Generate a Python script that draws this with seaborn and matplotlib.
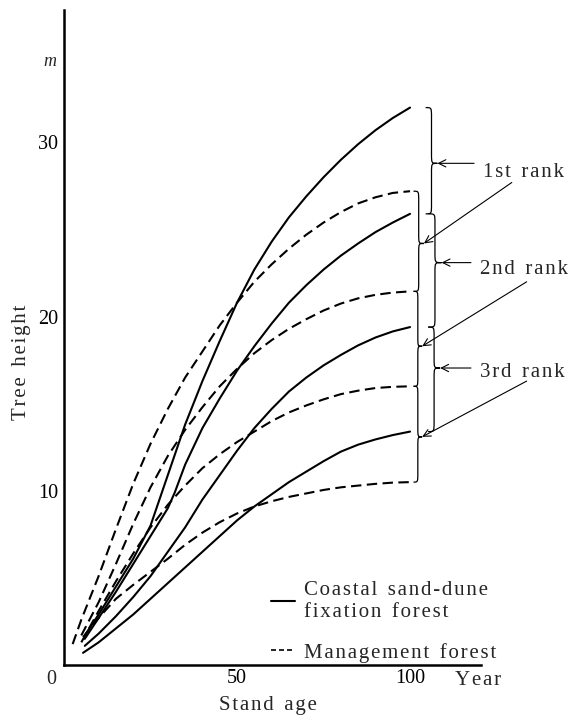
import matplotlib
matplotlib.use("Agg")
import matplotlib.pyplot as plt
from matplotlib.path import Path
from matplotlib.patches import PathPatch
from matplotlib.lines import Line2D
import pandas as pd
import seaborn as sns

# ---- tree height (m) by stand age (years) ----
# Coastal sand-dune fixation forest, site ranks from best to poorest
coastal_age_1 = [6, 10, 15, 20, 25, 30, 35, 40, 45, 50, 55, 60, 65, 70, 75, 80, 85, 90, 95, 100]
coastal_h_1 = [1.7, 2.9, 4.5, 6.1, 8.0, 10.9, 13.8, 16.3, 18.6, 20.8, 22.7, 24.3, 25.7, 26.9, 28.0, 29.0, 29.9, 30.7, 31.4, 32.0]
coastal_age_2 = [6, 10, 15, 20, 25, 30, 32, 35, 40, 45, 50, 55, 60, 65, 70, 75, 80, 85, 90, 95, 100]
coastal_h_2 = [1.5, 2.7, 4.2, 5.8, 7.4, 9.0, 9.9, 11.5, 13.6, 15.3, 16.9, 18.3, 19.6, 20.8, 21.8, 22.7, 23.5, 24.2, 24.85, 25.4, 25.9]
coastal_age_3 = [6, 10, 15, 20, 25, 30, 35, 40, 45, 50, 55, 60, 65, 70, 75, 80, 85, 90, 95, 100]
coastal_h_3 = [1.1, 1.8, 2.8, 3.9, 5.1, 6.5, 7.9, 9.5, 10.9, 12.3, 13.6, 14.7, 15.7, 16.5, 17.2, 17.8, 18.35, 18.8, 19.15, 19.4]
coastal_age_4 = [5.5, 10, 15, 20, 25, 30, 35, 40, 45, 50, 55, 60, 65, 70, 75, 80, 85, 90, 95, 100]
coastal_h_4 = [0.7, 1.3, 2.1, 2.9, 3.8, 4.7, 5.6, 6.5, 7.4, 8.3, 9.1, 9.8, 10.5, 11.1, 11.7, 12.25, 12.65, 12.95, 13.2, 13.4]

# Management forest, site ranks from best to poorest
manage_age_1 = [2.5, 5, 10, 15, 20, 25, 30, 35, 40, 45, 50, 55, 60, 65, 70, 75, 80, 85, 90, 95, 100]
manage_h_1 = [1.2, 2.6, 5.1, 7.8, 10.4, 12.7, 14.7, 16.5, 18.0, 19.5, 20.8, 22.0, 23.0, 23.9, 24.7, 25.4, 26.0, 26.5, 26.85, 27.1, 27.2]
manage_age_2 = [5, 10, 15, 20, 25, 30, 35, 40, 45, 50, 55, 60, 65, 70, 75, 80, 85, 90, 95, 100]
manage_h_2 = [1.7, 3.6, 5.8, 8.1, 10.2, 12.0, 13.5, 14.8, 16.0, 17.0, 17.9, 18.65, 19.3, 19.85, 20.35, 20.75, 21.05, 21.25, 21.38, 21.45]
manage_age_3 = [5, 10, 15, 20, 25, 30, 35, 40, 45, 50, 55, 60, 65, 70, 75, 80, 85, 90, 95, 100]
manage_h_3 = [1.3, 3.1, 4.8, 6.4, 7.9, 9.2, 10.3, 11.3, 12.1, 12.8, 13.4, 14.0, 14.5, 14.9, 15.25, 15.55, 15.75, 15.9, 15.97, 16.0]
manage_age_4 = [5.5, 10, 15, 20, 25, 30, 35, 40, 45, 50, 55, 60, 65, 70, 75, 80, 85, 90, 95, 100]
manage_h_4 = [1.6, 2.7, 3.8, 4.6, 5.35, 6.1, 6.9, 7.6, 8.2, 8.7, 9.1, 9.4, 9.65, 9.85, 10.05, 10.2, 10.3, 10.4, 10.47, 10.5]

COASTAL = "Coastal sand-dune\nfixation forest"
MANAGE = "Management forest"
rank_labels = ["1st rank", "2nd rank", "3rd rank"]

series = [
    (COASTAL, 1, coastal_age_1, coastal_h_1),
    (COASTAL, 2, coastal_age_2, coastal_h_2),
    (COASTAL, 3, coastal_age_3, coastal_h_3),
    (COASTAL, 4, coastal_age_4, coastal_h_4),
    (MANAGE, 1, manage_age_1, manage_h_1),
    (MANAGE, 2, manage_age_2, manage_h_2),
    (MANAGE, 3, manage_age_3, manage_h_3),
    (MANAGE, 4, manage_age_4, manage_h_4),
]
rows = []
for forest, rank, ages, heights in series:
    for a, h in zip(ages, heights):
        rows.append({"forest": forest, "curve": f"{forest}-{rank}", "age": a, "height": h})
df = pd.DataFrame(rows)

sns.set_style("white")
SERIF = ["Liberation Serif", "DejaVu Serif"]
plt.rcParams["font.family"] = SERIF
plt.rcParams["font.size"] = 15


def spaced(s):
    """Add a little tracking between the letters of each word."""
    return "  ".join("\u200a".join(w) for w in s.split(" "))


fig = plt.figure(figsize=(5.75, 7.17), dpi=100)
ax = fig.add_axes([0.1113, 0.0725, 0.7252, 0.9135])

sns.lineplot(
    data=df, x="age", y="height", units="curve", estimator=None, sort=False,
    style="forest", dashes={COASTAL: "", MANAGE: (5, 2.6)},
    color="black", linewidth=1.5, legend=False, ax=ax,
)

ax.set_xlim(0, 120.5)
ax.set_ylim(0, 37.6)
for side in ("top", "right"):
    ax.spines[side].set_visible(False)
for side in ("left", "bottom"):
    ax.spines[side].set_linewidth(1.8)
    ax.spines[side].set_color("black")

ax.set_xticks([50, 100])
ax.set_xticklabels(["50", "100"])
ax.set_yticks([10, 20, 30])
ax.set_yticklabels(["10", "20", "30"])
ax.set_yticks([5, 15, 25, 35], minor=True)
ax.tick_params(axis="both", which="major", direction="in", length=5, width=1.3,
               labelsize=14.5, colors="black")
ax.tick_params(axis="x", which="major", pad=2.8)
ax.tick_params(axis="y", which="major", pad=4)
ax.tick_params(axis="y", which="minor", direction="in", length=2.5, width=1.0)

ax.text(-3.6, -0.28, "0", ha="center", va="top", fontsize=14.5, clip_on=False)
ax.text(-0.034, 34.65, "m", transform=ax.get_yaxis_transform(), ha="center",
        va="center", fontsize=13, style="italic", clip_on=False)
ax.text(113, -0.9, spaced("Year"), ha="left", va="center", fontsize=15, clip_on=False)

ax.set_xlabel(spaced("Stand age"), fontsize=15)
ax.xaxis.set_label_coords(0.489, -0.048)
ax.set_ylabel(spaced("Tree height"), fontsize=15)
ax.yaxis.set_label_coords(-0.08, 0.462)


def draw_brace(ax, y_low, y_high, x0, w, y_tip, d=0.55):
    """Right-pointing curly brace between y_low and y_high; returns its tip."""
    xm = x0 + w / 2
    xt = x0 + w
    verts = [
        (x0, y_high), (xm, y_high), (xm, y_high), (xm, y_high - d),
        (xm, y_tip + d),
        (xm, y_tip), (xm, y_tip), (xt, y_tip),
        (xm, y_tip), (xm, y_tip), (xm, y_tip - d),
        (xm, y_low + d),
        (xm, y_low), (xm, y_low), (x0, y_low),
    ]
    codes = [Path.MOVETO, Path.CURVE4, Path.CURVE4, Path.CURVE4,
             Path.LINETO,
             Path.CURVE4, Path.CURVE4, Path.CURVE4,
             Path.CURVE4, Path.CURVE4, Path.CURVE4,
             Path.LINETO,
             Path.CURVE4, Path.CURVE4, Path.CURVE4]
    ax.add_patch(PathPatch(Path(verts, codes), fill=False, lw=0.9,
                           edgecolor="black", clip_on=False))
    return xt, y_tip


coastal_ends = [coastal_h_1[-1], coastal_h_2[-1], coastal_h_3[-1], coastal_h_4[-1]]
manage_ends = [manage_h_1[-1], manage_h_2[-1], manage_h_3[-1], manage_h_4[-1]]

coastal_brace = [(104.5, 3.4, 28.8), (105.3, 3.8, 23.1), (105.2, 3.5, 17.05)]
manage_brace = [(101.0, 3.0, 24.2), (101.0, 2.5, 18.3), (101.0, 2.5, 13.1)]

coastal_tips = []
manage_tips = []
for i in range(3):
    x0, w, yt = coastal_brace[i]
    coastal_tips.append(draw_brace(ax, coastal_ends[i + 1], coastal_ends[i], x0, w, yt))
    x0, w, yt = manage_brace[i]
    manage_tips.append(draw_brace(ax, manage_ends[i + 1], manage_ends[i], x0, w, yt))

label_pos = [(121.1, 28.3), (120.2, 22.7), (120.2, 16.8)]
diag_start = [(129.4, 27.7), (133.7, 22.0), (133.7, 16.3)]
arrow_kw = dict(arrowstyle="->", lw=0.8, color="black", shrinkA=0, shrinkB=0,
                mutation_scale=13)
for i in range(3):
    lx, ly = label_pos[i]
    ax.text(lx, ly, spaced(rank_labels[i]), ha="left", va="center", fontsize=15,
            clip_on=False)
    cx, cy = coastal_tips[i]
    ax.annotate("", xy=(cx, cy), xytext=(lx - 2.6, cy), arrowprops=arrow_kw,
                annotation_clip=False)
    mx, my = manage_tips[i]
    ax.annotate("", xy=(mx, my), xytext=diag_start[i], arrowprops=arrow_kw,
                annotation_clip=False)

handles = [
    Line2D([], [], color="black", lw=1.5),
    Line2D([], [], color="black", lw=1.2, dashes=(3, 1.8)),
]
legend_labels = ["\n".join(spaced(line) for line in lab.split("\n"))
                 for lab in (COASTAL, MANAGE)]
ax.legend(handles, legend_labels, loc="upper left", bbox_to_anchor=(0.497, 0.128),
          frameon=False, handlelength=1.15, handletextpad=0.4, labelspacing=1.0,
          borderpad=0, borderaxespad=0, fontsize=15)

fig.savefig("out.png", dpi=100)
